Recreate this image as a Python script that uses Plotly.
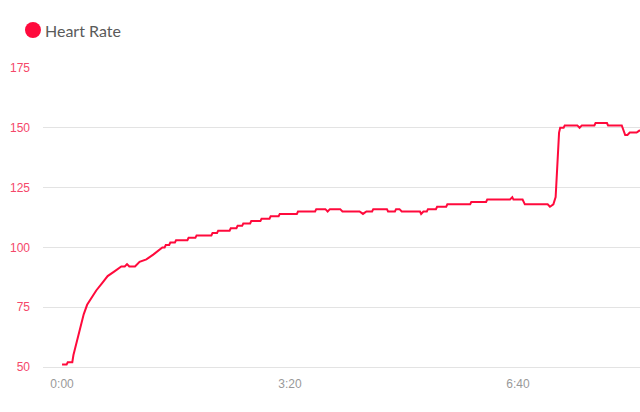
import plotly.graph_objects as go

# heart rate samples (time in seconds, bpm)
seconds = [0, 4, 5, 9, 10, 13, 16, 19, 22, 26, 30, 35, 40, 46, 52, 55, 57, 59, 64, 68,
           74, 80, 86, 88, 90, 91, 94, 95, 99, 100, 110, 111, 117, 118, 131, 132, 136, 137,
           147, 148, 153, 154, 158, 159, 165, 166, 174, 175, 182, 183, 190, 191, 206, 207,
           222, 223, 231, 233, 235, 244, 246, 261, 264, 267, 272, 273, 285, 286, 292, 293,
           296, 298, 314, 315, 317, 320, 321, 328, 329, 337, 338, 358, 359, 372, 373, 393,
           395, 396, 404, 406, 426, 428, 431, 433, 434, 435, 436, 437, 440, 441, 452, 454,
           456, 467, 468, 478, 479, 491, 494, 496, 498, 504, 507]
heart_rate = [51, 51, 52, 52, 55, 61, 67, 72, 76, 79, 82, 85, 88, 90, 92, 92, 93, 92, 92, 94,
              95, 97, 99, 100, 100, 101, 101, 102, 102, 103, 103, 104, 104, 105, 105, 106, 106,
              107, 107, 108, 108, 109, 109, 110, 110, 111, 111, 112, 112, 113, 113, 114, 114,
              115, 115, 116, 116, 115, 116, 116, 115, 115, 114, 115, 115, 116, 116, 115, 115,
              116, 116, 115, 115, 114, 115, 115, 116, 116, 117, 117, 118, 118, 119, 119, 120,
              120, 121, 120, 120, 118, 118, 117, 118, 121, 130, 140, 148, 150, 150, 151, 151,
              150, 151, 151, 152, 152, 151, 151, 147, 147, 148, 148, 149]

x_ticks = [0, 200, 400]
x_labels = ["0:00", "3:20", "6:40"]
y_ticks = [50, 75, 100, 125, 150, 175]

RED = "#ff0a3c"
GRID = "#e3e3e3"

fig = go.Figure()
fig.add_trace(go.Scatter(x=seconds, y=heart_rate, mode="lines",
                         line=dict(color=RED, width=2), name="Heart Rate",
                         showlegend=False))

# legend drawn by hand: big dot + label above the plot
fig.add_shape(type="circle", xref="paper", yref="paper",
              xsizemode="pixel", ysizemode="pixel",
              xanchor=-0.0168, yanchor=1.127,
              x0=-8, x1=8, y0=-8, y1=8,
              fillcolor=RED, line=dict(width=0))
fig.add_annotation(text="Heart Rate", xref="paper", yref="paper",
                   x=0.0, y=1.127, xanchor="left", yanchor="middle",
                   showarrow=False, font=dict(family="Lato", size=16, color="#5a5a5a"))

fig.update_layout(
    width=640, height=412,
    margin=dict(l=43, r=0, t=68, b=45),
    plot_bgcolor="white", paper_bgcolor="white",
    font=dict(family="Liberation Sans, Arial", size=12),
    xaxis=dict(range=[-16.7, 507], tickvals=x_ticks, ticktext=x_labels,
               showgrid=False, zeroline=False, showline=True, linecolor=GRID,
               linewidth=1, tickfont=dict(color="#999999", size=12),
               ticklabelstandoff=6),
    yaxis=dict(range=[50, 175], tickvals=y_ticks, showgrid=True,
               gridcolor=GRID, gridwidth=1, zeroline=False, showline=False,
               tickfont=dict(color="#f5476a", size=12), ticklabelstandoff=12),
)

# drop the default page margin so the figure fills the window exactly
fig.write_html("out.html", config={"displayModeBar": False},
               post_script="document.body.style.margin='0';")
